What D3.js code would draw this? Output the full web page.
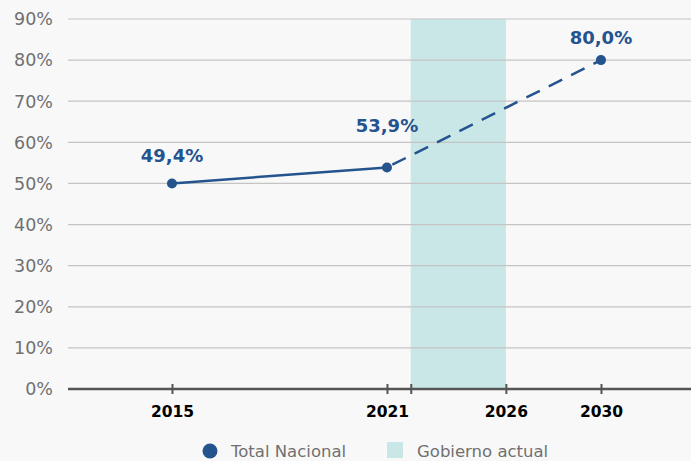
<!DOCTYPE html>
<html><head><meta charset="utf-8">
<script src="https://cdn.jsdelivr.net/npm/d3@7"></script>
<style>
html,body{margin:0;padding:0;background:#f8f8f8;}
svg{display:block;font-family:"DejaVu Sans",sans-serif;}
</style></head>
<body>
<script>
const years = [2015, 2021, 2030];
const values = [50.0, 53.9, 80.0];
const valueLabels = ["49,4%", "53,9%", "80,0%"];
const labelOffsets = [21, 35, 16];
const tickYears = [2015, 2021, 2022, 2026, 2030];
const tickLabels = ["2015", "2021", "", "2026", "2030"];
const yTicks = [0,10,20,30,40,50,60,70,80,90];
const band = [2022, 2026];
const legendItems = ["Total Nacional", "Gobierno actual"];

const W = 691, H = 461;
const m = {left: 68, right: 0, top: 19, bottom: 72};
const iw = W - m.left - m.right, ih = H - m.top - m.bottom;

const svg = d3.select("body").append("svg").attr("width", W).attr("height", H);
svg.append("rect").attr("width", W).attr("height", H).attr("fill", "#f8f8f8");

const x = d3.scaleLinear()
  .domain([2015, 2021, 2030])
  .range([m.left + iw*0.1669, m.left + iw*0.5120, m.left + iw*0.8555]);
const y = d3.scaleLinear().domain([0, 90]).range([m.top + ih, m.top]);

// band
svg.append("rect")
  .attr("x", x(band[0])).attr("y", y(90))
  .attr("width", x(band[1]) - x(band[0])).attr("height", y(0) - y(90))
  .attr("fill", "#c9e7e7");

// gridlines
svg.append("g").selectAll("line").data(yTicks.filter(d => d > 0)).join("line")
  .attr("x1", m.left).attr("x2", W - m.right)
  .attr("y1", d => y(d)).attr("y2", d => y(d))
  .attr("stroke", "#c4c4c4").attr("stroke-width", 1.2);

// y labels
svg.append("g").selectAll("text").data(yTicks).join("text")
  .attr("x", 53).attr("y", d => y(d)).attr("dy", "0.36em")
  .attr("text-anchor", "end").attr("font-size", 17.5).attr("fill", "#707070")
  .text(d => d + "%");

// x axis
const xAxis = d3.axisBottom(x).tickValues(tickYears)
  .tickFormat((d, i) => tickLabels[i]).tickSize(5).tickPadding(12);
const gx = svg.append("g").attr("transform", `translate(0,${y(0)})`).call(xAxis);
gx.select(".domain").attr("d", `M${m.left},0H${W}`).attr("stroke", "#555").attr("stroke-width", 2.5);
gx.selectAll(".tick line").attr("y1", -5).attr("y2", 5).attr("stroke", "#555").attr("stroke-width", 2);
gx.selectAll(".tick text").attr("font-size", 15.5).attr("font-weight", "bold").attr("fill", "#000")
  .attr("font-family", "DejaVu Sans, sans-serif");

const color = "#24538e";
const pts = years.map((yr, i) => ({yr, v: values[i], lab: valueLabels[i], off: labelOffsets[i]}));
const line = d3.line().x(d => x(d.yr)).y(d => y(d.v));
svg.append("path").datum(pts.slice(0, 2)).attr("d", line)
  .attr("fill", "none").attr("stroke", color).attr("stroke-width", 2.5);
svg.append("path").datum(pts.slice(1)).attr("d", line)
  .attr("fill", "none").attr("stroke", color).attr("stroke-width", 2.5)
  .attr("stroke-dasharray", "15,10").attr("stroke-dashoffset", -6);

svg.append("g").selectAll("circle").data(pts).join("circle")
  .attr("cx", d => x(d.yr)).attr("cy", d => y(d.v)).attr("r", 5).attr("fill", color);

svg.append("g").selectAll("text").data(pts).join("text")
  .attr("x", d => x(d.yr)).attr("y", d => y(d.v) - d.off)
  .attr("text-anchor", "middle").attr("font-size", 18).attr("font-weight", "bold")
  .attr("fill", color).text(d => d.lab);

// legend
const lg = svg.append("g");
lg.append("circle").attr("cx", 210).attr("cy", 451).attr("r", 7.5).attr("fill", color);
lg.append("text").attr("x", 231).attr("y", 451).attr("dy", "0.36em")
  .attr("font-size", 16.5).attr("fill", "#707070").text(legendItems[0]);
lg.append("rect").attr("x", 387).attr("y", 442).attr("width", 16).attr("height", 16).attr("fill", "#c9e7e7");
lg.append("text").attr("x", 417).attr("y", 451).attr("dy", "0.36em")
  .attr("font-size", 16.5).attr("fill", "#707070").text(legendItems[1]);
</script>
</body></html>
